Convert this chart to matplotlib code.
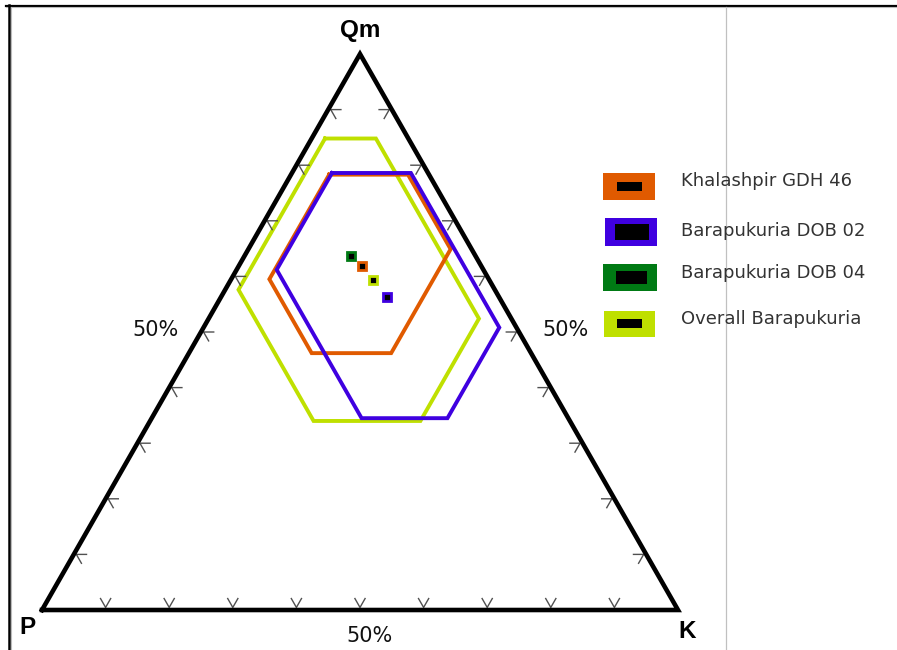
import numpy as np
import matplotlib
matplotlib.use("Agg")
import matplotlib.pyplot as plt
from matplotlib.patches import Rectangle
from matplotlib.lines import Line2D

# ---------------- data (ternary %, Qm / K / P) ----------------
series_names = ["Khalashpir GDH 46", "Barapukuria DOB 02",
                "Barapukuria DOB 04", "Overall Barapukuria"]
series_colors = ["#E05A00", "#3F00E0", "#007A14", "#BFE000"]

# standard-deviation hexagons (vertices)
khal_qm = [78.3, 78.3, 64.9, 46.2, 46.2, 59.5]
khal_k  = [6.0, 18.4, 31.8, 31.8, 19.3, 6.0]
khal_p  = [15.7, 3.3, 3.3, 22.0, 34.5, 34.5]

dob02_qm = [78.6, 78.6, 50.8, 34.5, 34.5, 61.2]
dob02_k  = [6.3, 18.7, 46.5, 46.5, 33.0, 6.3]
dob02_p  = [15.1, 2.7, 2.7, 19.0, 32.5, 32.5]

overall_qm = [84.8, 84.8, 52.4, 34.0, 34.0, 57.6]
overall_k  = [2.1, 10.1, 42.5, 42.5, 25.7, 2.1]
overall_p  = [13.1, 5.1, 5.1, 23.5, 40.3, 40.3]

# mean points: Khalashpir, DOB 02, DOB 04, Overall
mean_qm = [61.9, 56.3, 63.7, 59.4]
mean_k  = [19.4, 26.1, 16.7, 22.4]
mean_p  = [18.7, 17.6, 19.6, 18.2]

tick_fracs = [0.1, 0.2, 0.3, 0.4, 0.5, 0.6, 0.7, 0.8, 0.9]
vertex_labels = ["Qm", "P", "K"]
edge_labels = ["50%", "50%", "50%"]

# ---------------- helpers ----------------
S3 = np.sqrt(3) / 2


def tern(qm, k, p):
    qm = np.asarray(qm, float); k = np.asarray(k, float); p = np.asarray(p, float)
    s = qm + k + p
    q = qm / s
    kk = k / s
    return kk + q / 2, q * S3


W, H = 897, 650
fig = plt.figure(figsize=(W / 100, H / 100), dpi=100)
fig.patch.set_facecolor("white")


def fx(px):
    return px / W


def fy(py):
    return 1 - py / H


# triangle axes: P at (42,610), K at (678,610), Qm at (360,54)
ax = fig.add_axes([fx(42), fy(610), 636 / W, 556 / H])
ax.set_xlim(0, 1)
ax.set_ylim(0, S3)
ax.axis("off")

# triangle outline
tx, ty = tern([0, 0, 100, 0], [0, 100, 0, 0], [100, 0, 0, 100])
ax.plot(tx, ty, color="black", lw=3.3, solid_joinstyle="miter", clip_on=False, zorder=5)

# ternary tick chevrons
L = 0.016
tick_kw = dict(color="#505050", lw=1.0, clip_on=False, zorder=4)
c60, s60 = 0.5, S3
off = 0.004
for t in tick_fracs:
    # bottom edge (P-K)
    bx, by = t, off
    ax.plot([bx - L * c60, bx, bx + L * c60], [by + L * s60, by, by + L * s60], **tick_kw)
    # left edge (P-Qm)
    lx, ly = t / 2 + off, t * S3
    ax.plot([lx + L, lx, lx + L * c60], [ly, ly, ly - L * s60], **tick_kw)
    # right edge (K-Qm)
    rx, ry = 1 - t / 2 - off, t * S3
    ax.plot([rx - L, rx, rx - L * c60], [ry, ry, ry - L * s60], **tick_kw)

# hexagons
hexes = [
    (overall_qm, overall_k, overall_p, series_colors[3]),
    (khal_qm, khal_k, khal_p, series_colors[0]),
    (dob02_qm, dob02_k, dob02_p, series_colors[1]),
]
for qm, k, p, col in hexes:
    hx, hy = tern(qm + qm[:1], k + k[:1], p + p[:1])
    ax.plot(hx, hy, color=col, lw=2.8, solid_joinstyle="miter", zorder=3)

# mean points
mx, my = tern(mean_qm, mean_k, mean_p)
for x, y, col in zip(mx, my, series_colors):
    ax.plot([x], [y], marker="s", ms=5.5, mfc="black", mec=col, mew=2.0,
            linestyle="none", zorder=6)

# vertex labels
vfont = dict(family=["Liberation Sans Narrow", "Liberation Sans"], fontweight="bold",
             fontsize=17.5, color="black")
fig.text(fx(360), fy(30), vertex_labels[0], ha="center", va="center", **vfont)
fig.text(fx(27), fy(628), vertex_labels[1], ha="center", va="center", **vfont)
fig.text(fx(687), fy(631), vertex_labels[2], ha="center", va="center", **vfont)

# edge labels
efont = dict(family="DejaVu Sans", fontsize=15, color="#111111")
fig.text(fx(155), fy(330), edge_labels[0], ha="center", va="center", **efont)
fig.text(fx(566), fy(330), edge_labels[1], ha="center", va="center", **efont)
fig.text(fx(369), fy(636), edge_labels[2], ha="center", va="center", **efont)

# legend (manual)
outer = [(603, 173, 655, 200), (605, 218, 657, 246), (603, 264, 657, 291), (604, 311, 655, 337)]
inner = [(617, 182, 642, 191), (615, 224, 649, 240), (616, 271, 647, 284), (617, 319, 642, 328)]
text_y = [181.5, 231, 273, 319]
for i in range(4):
    x0, y0, x1, y1 = outer[i]
    fig.patches.append(Rectangle((fx(x0), fy(y1)), fx(x1) - fx(x0), fy(y0) - fy(y1),
                                 transform=fig.transFigure, facecolor=series_colors[i],
                                 edgecolor="none"))
    x0, y0, x1, y1 = inner[i]
    fig.patches.append(Rectangle((fx(x0), fy(y1)), fx(x1) - fx(x0), fy(y0) - fy(y1),
                                 transform=fig.transFigure, facecolor="black",
                                 edgecolor="none"))
    fig.text(fx(681), fy(text_y[i]), series_names[i], ha="left", va="center",
             family="DejaVu Sans", fontsize=13, color="#333333")

# frame lines
fig.add_artist(Line2D([fx(6), 1], [fy(5.5), fy(5.5)], transform=fig.transFigure,
                      color="black", lw=1.6))
fig.add_artist(Line2D([fx(6), 1], [fy(7.2), fy(7.2)], transform=fig.transFigure,
                      color="#bbbbbb", lw=0.8))
fig.add_artist(Line2D([fx(8.5), fx(8.5)], [fy(5), 0], transform=fig.transFigure,
                      color="black", lw=1.8))
fig.add_artist(Line2D([fx(10.8), fx(10.8)], [fy(7), 0], transform=fig.transFigure,
                      color="#bbbbbb", lw=0.8))
fig.add_artist(Line2D([fx(726), fx(726)], [fy(7), 0], transform=fig.transFigure,
                      color="#c0c0c0", lw=0.9))

fig.savefig("out.png", dpi=100, facecolor="white")
